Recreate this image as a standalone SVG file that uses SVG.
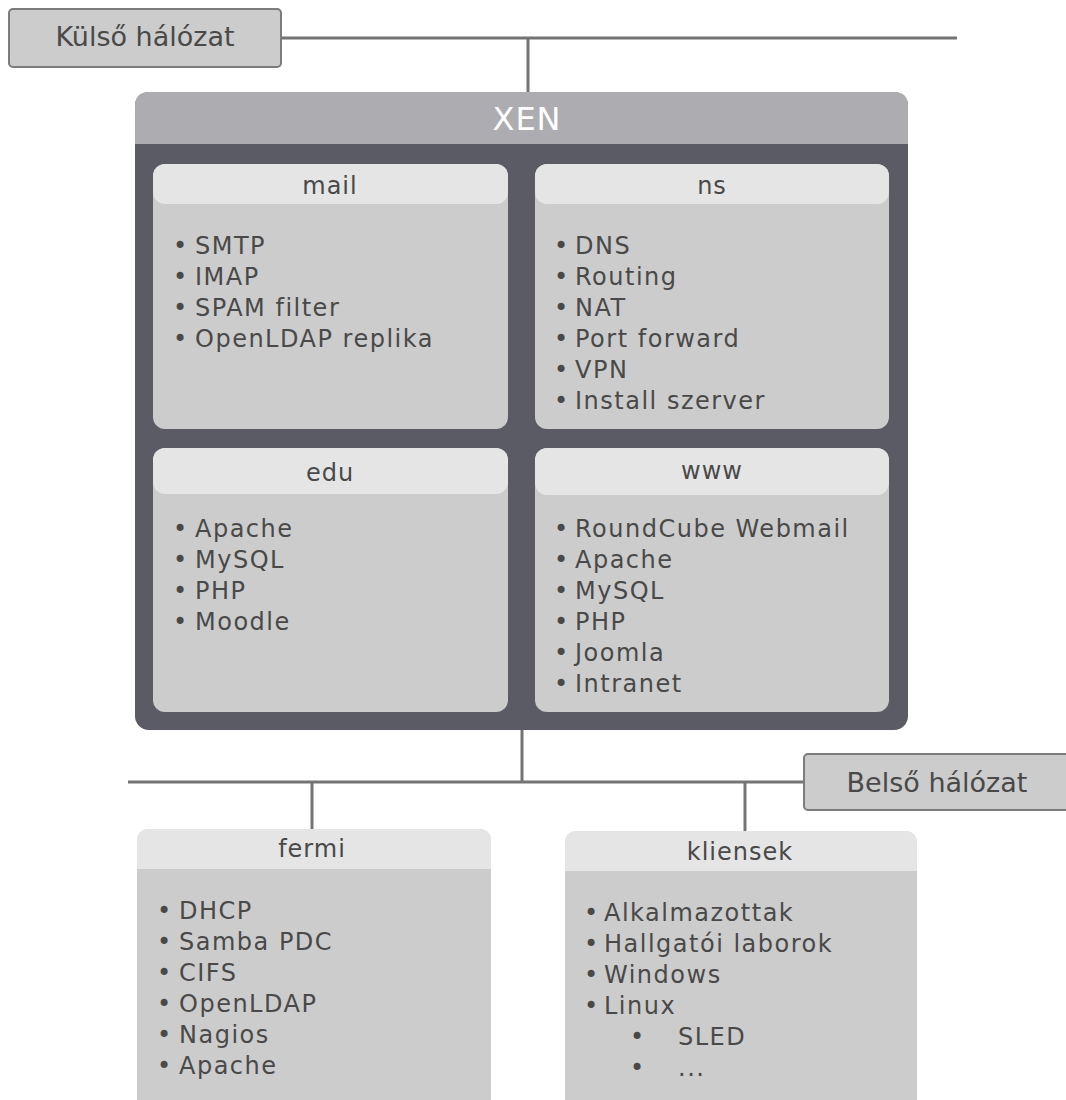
<svg xmlns="http://www.w3.org/2000/svg" width="1066" height="1100" viewBox="0 0 1066 1100">
<style>
.t{font-family:"DejaVu Sans","Liberation Sans",sans-serif;fill:#494949}
.it{font-size:24px;letter-spacing:1.5px}
.ti{font-size:24px;letter-spacing:1px;text-anchor:middle}
.net{font-size:27px;text-anchor:middle}
.xen{font-family:"DejaVu Sans","Liberation Sans",sans-serif;font-size:32px;fill:#ffffff;text-anchor:middle;letter-spacing:1px}
.ln{stroke:#747474;stroke-width:3;fill:none}
.body{fill:#cccccc}
.head{fill:#e5e5e5}
.netbox{fill:#cccccc;stroke:#7c7c7c;stroke-width:2}
</style>
<g id="connectors">
<line class="ln" x1="281" y1="38" x2="957" y2="38"/>
<line class="ln" x1="528" y1="38" x2="528" y2="93"/>
<line class="ln" x1="522" y1="729" x2="522" y2="782"/>
<line class="ln" x1="128" y1="782" x2="804" y2="782"/>
<line class="ln" x1="312" y1="782" x2="312" y2="829"/>
<line class="ln" x1="745" y1="782" x2="745" y2="831"/>
</g>
<g id="kulso">
<rect class="netbox" x="9" y="9" width="272" height="58" rx="4"/>
<text class="t net" x="145" y="46">Külső hálózat</text>
</g>
<g id="belso">
<rect class="netbox" x="804" y="754" width="270" height="56" rx="4"/>
<text class="t net" x="937" y="792">Belső hálózat</text>
</g>
<g id="xen">
<rect x="135" y="92" width="773" height="638" rx="14" fill="#5b5b66"/>
<path d="M135 144 V106 Q135 92 149 92 H894 Q908 92 908 106 V144 Z" fill="#adacb1"/>
<text class="xen" x="527" y="130">XEN</text>
</g>
<g id="mail">
<rect class="body" x="153" y="164" width="355" height="265" rx="12"/>
<rect class="head" x="153" y="164" width="355" height="40" rx="12"/>
<text class="t ti" x="330" y="194">mail</text>
<text class="t it"><tspan x="173" y="254">•</tspan><tspan x="195">SMTP</tspan></text>
<text class="t it"><tspan x="173" y="285">•</tspan><tspan x="195">IMAP</tspan></text>
<text class="t it"><tspan x="173" y="316">•</tspan><tspan x="195">SPAM filter</tspan></text>
<text class="t it"><tspan x="173" y="347">•</tspan><tspan x="195">OpenLDAP replika</tspan></text>
</g>
<g id="ns">
<rect class="body" x="535" y="164" width="354" height="265" rx="12"/>
<rect class="head" x="535" y="164" width="354" height="40" rx="12"/>
<text class="t ti" x="712" y="194">ns</text>
<text class="t it"><tspan x="554" y="254">•</tspan><tspan x="575">DNS</tspan></text>
<text class="t it"><tspan x="554" y="285">•</tspan><tspan x="575">Routing</tspan></text>
<text class="t it"><tspan x="554" y="316">•</tspan><tspan x="575">NAT</tspan></text>
<text class="t it"><tspan x="554" y="347">•</tspan><tspan x="575">Port forward</tspan></text>
<text class="t it"><tspan x="554" y="378">•</tspan><tspan x="575">VPN</tspan></text>
<text class="t it"><tspan x="554" y="409">•</tspan><tspan x="575">Install szerver</tspan></text>
</g>
<g id="edu">
<rect class="body" x="153" y="448" width="355" height="264" rx="12"/>
<rect class="head" x="153" y="448" width="355" height="46" rx="12"/>
<text class="t ti" x="330" y="481">edu</text>
<text class="t it"><tspan x="173" y="537">•</tspan><tspan x="195">Apache</tspan></text>
<text class="t it"><tspan x="173" y="568">•</tspan><tspan x="195">MySQL</tspan></text>
<text class="t it"><tspan x="173" y="599">•</tspan><tspan x="195">PHP</tspan></text>
<text class="t it"><tspan x="173" y="630">•</tspan><tspan x="195">Moodle</tspan></text>
</g>
<g id="www">
<rect class="body" x="535" y="448" width="354" height="264" rx="12"/>
<rect class="head" x="535" y="448" width="354" height="47" rx="12"/>
<text class="t ti" x="712" y="479">www</text>
<text class="t it"><tspan x="554" y="537">•</tspan><tspan x="575">RoundCube Webmail</tspan></text>
<text class="t it"><tspan x="554" y="568">•</tspan><tspan x="575">Apache</tspan></text>
<text class="t it"><tspan x="554" y="599">•</tspan><tspan x="575">MySQL</tspan></text>
<text class="t it"><tspan x="554" y="630">•</tspan><tspan x="575">PHP</tspan></text>
<text class="t it"><tspan x="554" y="661">•</tspan><tspan x="575">Joomla</tspan></text>
<text class="t it"><tspan x="554" y="692">•</tspan><tspan x="575">Intranet</tspan></text>
</g>
<g id="fermi">
<rect class="body" x="137" y="829" width="354" height="290" rx="12"/>
<path class="head" d="M137 869 V841 Q137 829 149 829 H479 Q491 829 491 841 V869 Z"/>
<text class="t ti" x="312" y="857">fermi</text>
<text class="t it"><tspan x="157" y="919">•</tspan><tspan x="179">DHCP</tspan></text>
<text class="t it"><tspan x="157" y="950">•</tspan><tspan x="179">Samba PDC</tspan></text>
<text class="t it"><tspan x="157" y="981">•</tspan><tspan x="179">CIFS</tspan></text>
<text class="t it"><tspan x="157" y="1012">•</tspan><tspan x="179">OpenLDAP</tspan></text>
<text class="t it"><tspan x="157" y="1043">•</tspan><tspan x="179">Nagios</tspan></text>
<text class="t it"><tspan x="157" y="1074">•</tspan><tspan x="179">Apache</tspan></text>
</g>
<g id="kliensek">
<rect class="body" x="565" y="831" width="352" height="290" rx="12"/>
<path class="head" d="M565 871 V843 Q565 831 577 831 H905 Q917 831 917 843 V871 Z"/>
<text class="t ti" x="740" y="860">kliensek</text>
<text class="t it"><tspan x="584" y="921">•</tspan><tspan x="604">Alkalmazottak</tspan></text>
<text class="t it"><tspan x="584" y="952">•</tspan><tspan x="604">Hallgatói laborok</tspan></text>
<text class="t it"><tspan x="584" y="983">•</tspan><tspan x="604">Windows</tspan></text>
<text class="t it"><tspan x="584" y="1014">•</tspan><tspan x="604">Linux</tspan></text>
<text class="t it"><tspan x="630" y="1045">•</tspan><tspan x="678">SLED</tspan></text>
<text class="t it"><tspan x="630" y="1076">•</tspan><tspan x="678">...</tspan></text>
</g>
</svg>
